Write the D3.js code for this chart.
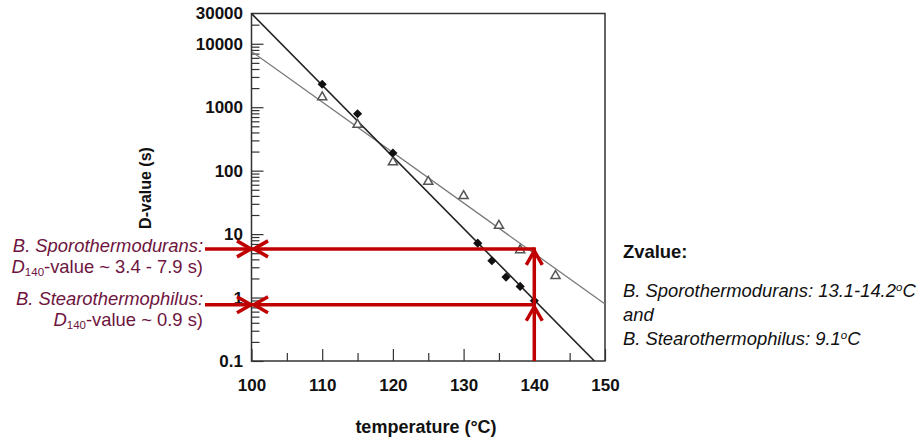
<html>
<head>
<meta charset="utf-8">
<title>D-value vs temperature</title>
<style type="text/css">
  body { margin: 0; background: #fff; }
  svg { display: block; font-family: "Liberation Sans", Arial, sans-serif; }
  .axis text { font-size: 17px; font-weight: bold; fill: #111; }
  .axis path { display: none; }
  .axis line { stroke: #333; stroke-width: 1.2; }
  .note { font-size: 18.4px; font-style: italic; fill: #6e1440; }
  .zval { font-size: 18.4px; fill: #111; }
</style>
<script src="https://cdn.jsdelivr.net/npm/d3@7"></script>
</head>
<body>
<svg id="chart" width="923" height="440"></svg>
<script type="text/javascript">

// data
var sporoTemps = [110, 115, 120, 125, 130, 135, 138, 143];
var sporoD     = [1440, 530, 136, 67, 40, 13.6, 5.6, 2.2];
var stearoTemps = [110, 115, 120, 132, 134, 136, 138, 140];
var stearoD     = [2300, 790, 190, 7.2, 3.8, 2.1, 1.5, 0.89];

// fitted lines (end points)
var sporoFitT = [100, 150],   sporoFitD = [7570, 0.79];
var stearoFitT = [100, 148.5], stearoFitD = [30000, 0.1];

// annotation: D at 140 C
var markT = 140;
var markD = [5.85, 0.77];

var yLabels = [0.1, 1, 10, 100, 1000, 10000, 30000];
var xLabels = [100, 110, 120, 130, 140, 150];
var xTicks = d3.range(100, 151, 5);

var svg = d3.select("#chart");

var x = d3.scaleLinear().domain([100, 150]).range([251.5, 605]);
var y = d3.scaleLog().domain([0.1, 30000]).range([361, 13.5]);

// minor / major y ticks (pointing inwards)
var allY = y.ticks().filter(function(d) { return d < 30000; });
var isMajor = function(d) { return Math.abs(Math.log10(d) - Math.round(Math.log10(d))) < 1e-6; };

svg.append("g").attr("class", "axis")
  .attr("transform", "translate(" + x(100) + ",0)")
  .call(d3.axisLeft(y).tickValues(allY.filter(function(d) { return !isMajor(d); }))
    .tickSize(-8).tickFormat(""));
svg.append("g").attr("class", "axis")
  .attr("transform", "translate(" + x(100) + ",0)")
  .call(d3.axisLeft(y).tickValues(allY.filter(isMajor)).tickSize(-12).tickFormat(""));
svg.append("g").attr("class", "axis")
  .attr("transform", "translate(" + x(100) + ",0)")
  .call(d3.axisLeft(y).tickValues(yLabels).tickSize(0).tickPadding(8.5).tickFormat(d3.format("~g")));

// x ticks
svg.append("g").attr("class", "axis")
  .attr("transform", "translate(0," + y(0.1) + ")")
  .call(d3.axisBottom(x).tickValues(xTicks.filter(function(d) { return d % 10 != 0; }))
    .tickSize(-8).tickFormat(""));
svg.append("g").attr("class", "axis")
  .attr("transform", "translate(0," + y(0.1) + ")")
  .call(d3.axisBottom(x).tickValues(xLabels).tickSize(-12).tickFormat(""));
svg.append("g").attr("class", "axis")
  .attr("transform", "translate(0," + y(0.1) + ")")
  .call(d3.axisBottom(x).tickValues(xLabels).tickSize(0).tickPadding(18));

// frame
svg.append("rect")
  .attr("x", x(100)).attr("y", y(30000))
  .attr("width", x(150) - x(100)).attr("height", y(0.1) - y(30000))
  .attr("fill", "none").attr("stroke", "#333").attr("stroke-width", 1.5);

// axis titles
svg.append("text")
  .attr("x", 426).attr("y", 433)
  .attr("text-anchor", "middle")
  .style("font-size", "18px").style("font-weight", "bold").style("fill", "#111")
  .text("temperature (\u00B0C)");

svg.append("text")
  .attr("transform", "translate(151,188) rotate(-90)")
  .attr("text-anchor", "middle")
  .style("font-size", "16px").style("font-weight", "bold").style("fill", "#111")
  .text("D-value (s)");

svg.append("clipPath").attr("id", "plotclip").append("rect")
  .attr("x", x(100)).attr("y", y(30000))
  .attr("width", x(150) - x(100)).attr("height", y(0.1) - y(30000));

var line = d3.line()
  .x(function(d) { return x(d[0]); })
  .y(function(d) { return y(d[1]); });

var plot = svg.append("g").attr("clip-path", "url(#plotclip)");

plot.append("path")
  .datum(d3.zip(sporoFitT, sporoFitD))
  .attr("d", line)
  .attr("fill", "none").attr("stroke", "#7a7a7a").attr("stroke-width", 1.3);

plot.append("path")
  .datum(d3.zip(stearoFitT, stearoFitD))
  .attr("d", line)
  .attr("fill", "none").attr("stroke", "#222").attr("stroke-width", 1.6);

// open triangles
plot.selectAll(".tri")
  .data(d3.zip(sporoTemps, sporoD))
  .enter().append("path")
  .attr("class", "tri")
  .attr("transform", function(d) { return "translate(" + x(d[0]) + "," + y(d[1]) + ")"; })
  .attr("d", d3.symbol().type(d3.symbolTriangle).size(36))
  .attr("fill", "#fff").attr("stroke", "#555").attr("stroke-width", 1.5);

// filled diamonds
plot.selectAll(".dia")
  .data(d3.zip(stearoTemps, stearoD))
  .enter().append("path")
  .attr("class", "dia")
  .attr("transform", function(d) { return "translate(" + x(d[0]) + "," + y(d[1]) + ") rotate(45)"; })
  .attr("d", d3.symbol().type(d3.symbolSquare).size(42))
  .attr("fill", "#111");

// red annotation
var red = "#c00000";
var ann = svg.append("g")
  .attr("fill", "none").attr("stroke", red).attr("stroke-width", 3.5);

markD.forEach(function(d) {
  ann.append("line")
    .attr("x1", 205).attr("x2", x(markT))
    .attr("y1", y(d)).attr("y2", y(d));
});
ann.append("line")
  .attr("x1", x(markT)).attr("x2", x(markT))
  .attr("y1", y(markD[0]) - 1.5).attr("y2", y(0.1));

function chevron(tx, ty, dx, dy) {
  // tip at (tx,ty), opening towards (-dx,-dy)
  var L = 14, W = 8;
  var px = -dy, py = dx;
  return "M" + (tx - dx * L + px * W) + "," + (ty - dy * L + py * W) +
    "L" + tx + "," + ty +
    "L" + (tx - dx * L - px * W) + "," + (ty - dy * L - py * W);
}
markD.forEach(function(d) {
  ann.append("path").attr("d", chevron(x(100) - 0.5, y(d), 1, 0));
  ann.append("path").attr("d", chevron(x(100) + 2.5, y(d), -1, 0));
  ann.append("path").attr("d", chevron(x(markT), y(d) + 2, 0, -1));
});

// left notes
var notes = [
  { name: "B. Sporothermodurans:", val: "-value ~ 3.4 - 7.9 s)", y1: 252, y2: 273 },
  { name: "B. Stearothermophilus:", val: "-value ~ 0.9 s)", y1: 305, y2: 326 }
];
notes.forEach(function(n) {
  svg.append("text").attr("class", "note")
    .attr("x", 203).attr("y", n.y1).attr("text-anchor", "end")
    .text(n.name);
  var t = svg.append("text").attr("class", "note")
    .attr("x", 203).attr("y", n.y2).attr("text-anchor", "end");
  t.append("tspan").text("D");
  t.append("tspan").attr("dy", 3).style("font-size", "11.5px").style("font-style", "normal").text("140");
  t.append("tspan").attr("dy", -3).style("font-style", "normal").text(n.val);
});

// right notes
svg.append("text").attr("class", "zval")
  .attr("x", 623).attr("y", 258).style("font-weight", "bold")
  .text("Zvalue:");

var z1 = svg.append("text").attr("class", "zval").attr("x", 623).attr("y", 297).style("font-style", "italic");
z1.append("tspan").text("B. Sporothermodurans: 13.1-14.2");
z1.append("tspan").attr("dy", -6).style("font-size", "11.5px").text("o");
z1.append("tspan").attr("dy", 6).text("C");

svg.append("text").attr("class", "zval")
  .attr("x", 623).attr("y", 321).style("font-style", "italic")
  .text("and");

var z2 = svg.append("text").attr("class", "zval").attr("x", 623).attr("y", 345).style("font-style", "italic");
z2.append("tspan").text("B. Stearothermophilus: 9.1");
z2.append("tspan").attr("dy", -6).style("font-size", "11.5px").text("o");
z2.append("tspan").attr("dy", 6).text("C");

</script>
</body>
</html>
